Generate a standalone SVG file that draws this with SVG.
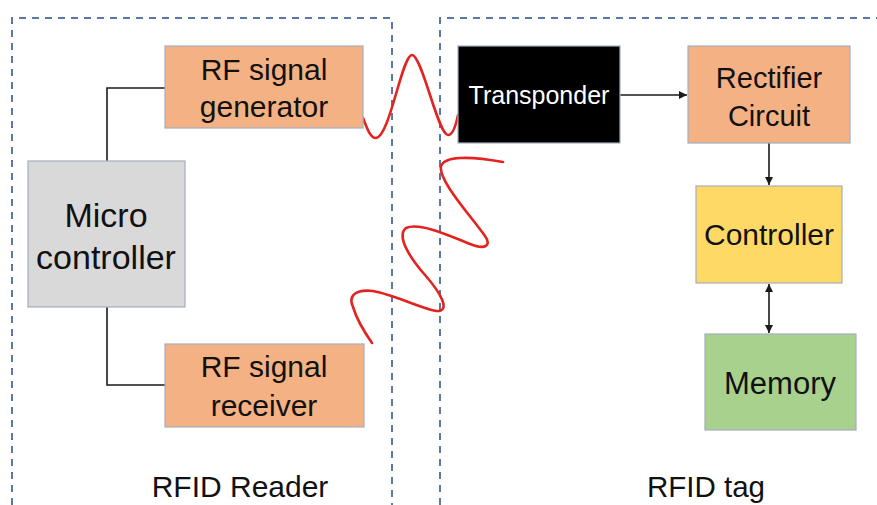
<svg xmlns="http://www.w3.org/2000/svg" width="877" height="505" viewBox="0 0 877 505">
  <style>
    .frame { fill: none; stroke: #5b76a8; stroke-width: 2; stroke-dasharray: 7 6; }
    .box { stroke: #a4adbd; stroke-width: 1.2; }
    .orange { fill: #f4b183; }
    .gray { fill: #d9d9d9; }
    .yellow { fill: #ffd966; }
    .green { fill: #a9d18e; }
    .dark { fill: #000000; }
    .lbl { font-family: "Liberation Sans", Arial, sans-serif; fill: #111111; text-anchor: middle; }
    .wire { fill: none; stroke: #1a1a1a; stroke-width: 1.6; }
    .wave { fill: none; stroke: #e2231f; stroke-width: 2.6; stroke-linecap: round; stroke-linejoin: round; }
  </style>
  <defs>
    <marker id="head" viewBox="0 0 10 10" refX="10" refY="5" markerWidth="5" markerHeight="5" orient="auto-start-reverse">
      <path d="M0,0 L10,5 L0,10 z" fill="#1a1a1a"/>
    </marker>
  </defs>

  <rect width="877" height="505" fill="#ffffff"/>

  <!-- dashed enclosures for reader and tag -->
  <g id="frames">
    <path class="frame" d="M12,505 V18 H392 V505"/>
    <path class="frame" d="M440,505 V18 H877"/>
  </g>

  <!-- wireless link -->
  <g id="waves">
    <path class="wave" d="M363,118 C367,128 370,138 376,138 C390,136 402,55 412,55 C422,55 438,135 448,135 C453,135 456,125 458,115"/>
    <path class="wave" d="M503,162 C470,156 445,156 441,166 C438,180 470,215 485,236 C492,246 485,250 470,244 C450,236 420,222 406,228 C396,236 410,258 425,275 C440,292 452,312 436,311 C420,308 395,295 373,291 C355,289 348,296 353,307 C357,320 365,333 372,343"/>
  </g>

  <g id="connectors">
    <path class="wire" d="M107,161 V88 H165"/>
    <path class="wire" d="M107,307 V385 H165"/>
    <path class="wire" d="M620,95 H687" marker-end="url(#head)"/>
    <path class="wire" d="M769,143 V185" marker-end="url(#head)"/>
    <path class="wire" d="M769,284 V333" marker-start="url(#head)" marker-end="url(#head)"/>
  </g>

  <g id="rf-generator">
    <rect class="box orange" x="165" y="46" width="198" height="82"/>
    <text class="lbl" x="264" y="80" font-size="30">RF signal</text>
    <text class="lbl" x="264" y="117" font-size="30">generator</text>
  </g>

  <g id="microcontroller">
    <rect class="box gray" x="28" y="161" width="157" height="146"/>
    <text class="lbl" x="106" y="227" font-size="34">Micro</text>
    <text class="lbl" x="106" y="269" font-size="34">controller</text>
  </g>

  <g id="rf-receiver">
    <rect class="box orange" x="165" y="344" width="199" height="83"/>
    <text class="lbl" x="264" y="377" font-size="30">RF signal</text>
    <text class="lbl" x="264" y="416" font-size="30">receiver</text>
  </g>

  <g id="transponder">
    <rect class="box dark" x="458" y="46" width="162" height="97"/>
    <text class="lbl" x="539" y="104" font-size="25" style="fill:#ffffff">Transponder</text>
  </g>

  <g id="rectifier">
    <rect class="box orange" x="688" y="46" width="162" height="97"/>
    <text class="lbl" x="769" y="88" font-size="29">Rectifier</text>
    <text class="lbl" x="769" y="126" font-size="29">Circuit</text>
  </g>

  <g id="controller">
    <rect class="box yellow" x="696" y="186" width="146" height="97"/>
    <text class="lbl" x="769" y="245" font-size="30">Controller</text>
  </g>

  <g id="memory">
    <rect class="box green" x="705" y="334" width="151" height="96"/>
    <text class="lbl" x="780" y="394" font-size="31">Memory</text>
  </g>

  <g id="captions">
    <text class="lbl" x="240" y="497" font-size="30">RFID Reader</text>
    <text class="lbl" x="706" y="497" font-size="29.5">RFID tag</text>
  </g>
</svg>
